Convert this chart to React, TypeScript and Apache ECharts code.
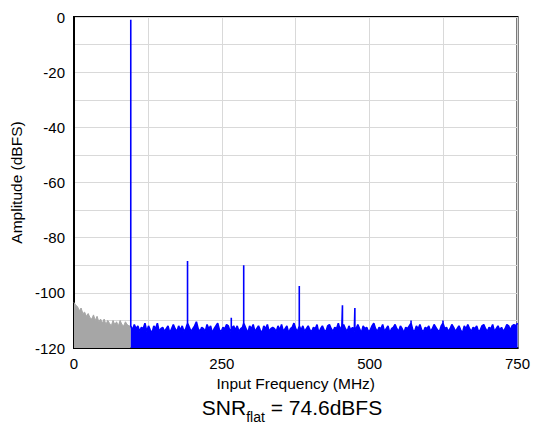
import React, { useEffect, useRef } from "react";
import * as echarts from "echarts";

// Gray region (below fundamental): 0..96 MHz, 3 MHz step
const grayStart = 0;
const grayStep = 3;
const grayLevels = [
  -103.5, -104.5, -105, -106.5, -105.5, -107.5, -107, -108.5, -107.5, -109, -109.5, -108,
  -110, -108.5, -110.5, -109.5, -111, -109.5, -111.5, -110, -111, -112, -110, -111.5,
  -110.5, -112, -110, -111.5, -112, -110.5, -111.5, -112, -112,
];

// Blue noise floor: 96..750 MHz, 3 MHz step
const blueStart = 96;
const blueStep = 3;
const blueLevels = [
  -112, -113.5, -111.5, -113, -112, -114, -112.5, -113, -111, -114, -112, -113.5, -114.5, -112, -113, -111, -114, -113, -112.5, -114,
  -113, -112, -114.5, -113, -111.5, -113, -114, -112, -113.5, -112, -114, -113, -111, -112.5, -114, -113, -112, -110.5, -113, -114,
  -112.5, -113, -114, -111.5, -113, -112, -114.5, -113, -112, -111, -113.5, -114, -112.5, -113, -111.5, -112, -114, -113, -112, -113.5,
  -112, -114, -113, -112.5, -111, -113, -114.5, -112, -113, -111.5, -114, -113, -112, -113.5, -114.5, -112, -113, -111.5, -114, -113,
  -112.5, -113, -114, -112, -113.5, -111.5, -114, -113, -112, -114.5, -113, -112.5, -111, -113, -114, -112, -113.5, -112, -114, -113,
  -112, -113.5, -114, -112.5, -113, -111.5, -114.5, -113, -112, -113.5, -114, -112, -111.5, -113, -114, -112.5, -113, -111, -113.5, -112,
  -111.5, -113, -114, -112, -113.5, -112.5, -114, -113, -111.5, -113, -114.5, -112, -113, -112.5, -114, -113.5, -112, -111, -113, -114,
  -112.5, -113, -111.5, -114, -113, -112, -114.5, -113, -112.5, -111.5, -113, -114, -112, -113, -114.5, -112.5, -113, -112, -111, -113.5,
  -114, -112, -113, -111.5, -113.5, -114, -112.5, -113, -112, -114, -113, -111.5, -112.5, -113.5, -114, -112, -111, -113, -112.5, -114,
  -113, -111.5, -112.5, -114, -113, -112, -113.5, -114.5, -112, -113, -111.5, -113, -114, -112.5, -113, -112, -114, -113.5, -112, -111.5,
  -113, -114, -112.5, -113, -111.5, -114, -113, -112, -113.5, -112.5, -114, -113, -111.5, -112, -113.5, -112, -111.5, -112, -111,
];

// Spurs / tones
const spurFreqs = [96, 192, 266, 287, 381, 454, 475, 570, 624];
const spurLevels = [-1, -88.5, -109, -90, -97.5, -104.5, -105.5, -110, -110];

const xTicks = [0, 250, 500, 750];
const yTicks = [0, -20, -40, -60, -80, -100, -120];

const FONT = "'Liberation Sans', Arial, sans-serif";

function buildBlue(): number[][] {
  const pts: number[][] = blueLevels.map((v, i) => [blueStart + i * blueStep, v]);
  spurFreqs.forEach((f, k) => {
    const idx = Math.min(blueLevels.length - 1, Math.max(0, Math.round((f - blueStart) / blueStep)));
    const floor = blueLevels[idx];
    pts.push([f, floor], [f, spurLevels[k]], [f, floor]);
  });
  const withOrder = pts.map((p, i) => ({ p, i }));
  withOrder.sort((a, b) => a.p[0] - b.p[0] || a.i - b.i);
  return withOrder.map((o) => o.p);
}

export default function App() {
  const ref = useRef<HTMLDivElement>(null);
  useEffect(() => {
    document.body.style.margin = "0";
    if (!ref.current) return;
    const chart = echarts.init(ref.current, null, { renderer: "svg" });
    const gray = grayLevels.map((v, i) => [grayStart + i * grayStep, v]);
    const blue = buildBlue();
    chart.setOption({
      animation: false,
      grid: {
        left: 73,
        top: 17,
        right: 15,
        bottom: 77,
        show: true,
        borderColor: "#000",
        borderWidth: 2,
        backgroundColor: "#fff",
      },
      xAxis: {
        type: "value",
        min: 0,
        max: 750,
        interval: 125,
        name: "Input Frequency (MHz)",
        nameLocation: "middle",
        nameGap: 26,
        nameTextStyle: { fontFamily: FONT, fontSize: 15.5, color: "#000" },
        axisLine: { show: true, onZero: false, lineStyle: { color: "#000", width: 2 } },
        axisTick: { show: false },
        axisLabel: {
          fontFamily: FONT,
          fontSize: 15,
          color: "#000",
          margin: 8,
          formatter: (v: number) => (xTicks.includes(v) ? String(v) : ""),
        },
        splitLine: { show: true, lineStyle: { color: "#d9d9d9", width: 1 } },
      },
      yAxis: {
        type: "value",
        min: -120,
        max: 0,
        interval: 10,
        name: "Amplitude (dBFS)",
        nameLocation: "middle",
        nameGap: 50,
        nameTextStyle: { fontFamily: FONT, fontSize: 15.5, color: "#000" },
        axisLine: { show: true, onZero: false, lineStyle: { color: "#000", width: 2 } },
        axisTick: { show: false },
        axisLabel: {
          fontFamily: FONT,
          fontSize: 15,
          color: "#000",
          margin: 9,
          formatter: (v: number) => (yTicks.includes(v) ? String(v) : ""),
        },
        splitLine: { show: true, lineStyle: { color: "#d9d9d9", width: 1 } },
      },
      series: [
        {
          type: "line",
          data: gray,
          showSymbol: false,
          symbol: "none",
          lineStyle: { color: "#a6a6a6", width: 1 },
          areaStyle: { color: "#a6a6a6", opacity: 1, origin: "start" },
          z: 2,
        },
        {
          type: "line",
          data: blue,
          showSymbol: false,
          symbol: "none",
          lineStyle: { color: "#0000ff", width: 1.6 },
          areaStyle: { color: "#0000ff", opacity: 1, origin: "start" },
          z: 3,
        },
      ],
      graphic: [
        {
          type: "text",
          x: 292,
          y: 406,
          style: {
            text: "{a|SNR}{b|flat}{a| = 74.6dBFS}",
            fontFamily: FONT,
            fill: "#000",
            align: "center",
            verticalAlign: "middle",
            rich: {
              a: { fontSize: 21, fontFamily: FONT, fill: "#000", lineHeight: 24, verticalAlign: "bottom" },
              b: { fontSize: 14, fontFamily: FONT, fill: "#000", lineHeight: 24, verticalAlign: "bottom", padding: [0, 0, -6, 0] },
            },
          },
        },
      ],
    });
    return () => chart.dispose();
  }, []);
  return <div ref={ref} style={{ width: 533, height: 425 }} />;
}
